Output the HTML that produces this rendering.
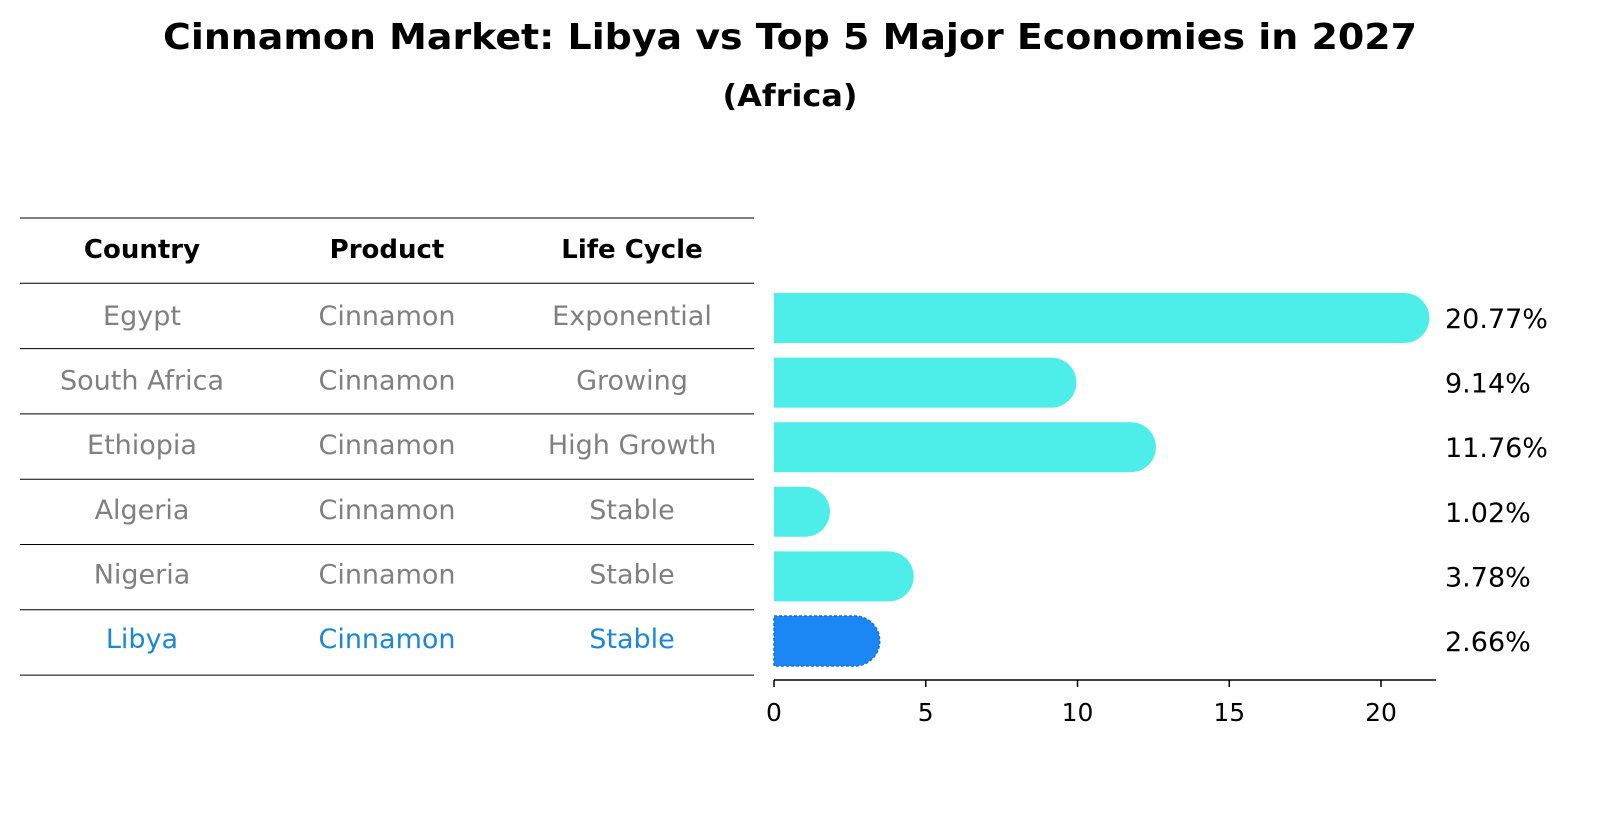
<!DOCTYPE html>
<html><head><meta charset="utf-8"><style>
body{margin:0;background:#fff;font-family:"Liberation Sans","DejaVu Sans",sans-serif;}
</style></head><body>
<svg width="1604" height="823" xmlns="http://www.w3.org/2000/svg" font-family="DejaVu Sans, Liberation Sans, sans-serif">
<text x="790" y="49" text-anchor="middle" font-size="36" font-weight="bold" textLength="1254" lengthAdjust="spacingAndGlyphs">Cinnamon Market: Libya vs Top 5 Major Economies in 2027</text>
<text x="790" y="106" text-anchor="middle" font-size="30" font-weight="bold" textLength="135" lengthAdjust="spacingAndGlyphs">(Africa)</text>
<g id="table"></g>
<g id="bars"></g>
<g id="axis"></g>
</svg>
<script>
const countries=["Egypt","South Africa","Ethiopia","Algeria","Nigeria","Libya"];
const products=["Cinnamon","Cinnamon","Cinnamon","Cinnamon","Cinnamon","Cinnamon"];
const lifeCycles=["Exponential","Growing","High Growth","Stable","Stable","Stable"];
const values=[20.77,9.14,11.76,1.02,3.78,2.66];
const ticks=[0,5,10,15,20];
const NS="http://www.w3.org/2000/svg";
function mk(t,a,p){const e=document.createElementNS(NS,t);for(const k in a)e.setAttribute(k,a[k]);p.appendChild(e);return e;}
const x0=774,ppu=30.35,x=v=>x0+v*ppu;
const rowY=i=>318+i*64.6;
const tbl=document.getElementById('table'),bars=document.getElementById('bars'),ax=document.getElementById('axis');
const cols=[142,387,632];
const hdr=["Country","Product","Life Cycle"];
hdr.forEach((h,j)=>{const t=mk('text',{x:cols[j],y:258,'text-anchor':'middle','font-size':26,'font-weight':'bold'},tbl);t.textContent=h;
});
for(let k=0;k<8;k++){const y=218+k*65.3;const l=mk('line',{x1:20,x2:754,y1:y,y2:y,stroke:'#000','stroke-width':1},tbl);
}
countries.forEach((c,i)=>{const col=i===5?'#1a87d8':'#808080';
[c,products[i],lifeCycles[i]].forEach((s,j)=>{const t=mk('text',{x:cols[j],y:rowY(i)+7,'text-anchor':'middle','font-size':27,fill:col},tbl);t.textContent=s;
});
const h=50,r=25,xe=x(values[i]),y=rowY(i)-h/2;const fill=i===5?'#1a87f5':'#4deeea';
const p=mk('path',{d:`M${x0} ${y}H${xe}A${r} ${r} 0 0 1 ${xe} ${y+h}H${x0}Z`,fill:fill},bars);
if(i===5){p.setAttribute('stroke','#1a6fd8');p.setAttribute('stroke-dasharray','3 2');p.setAttribute('stroke-width','1.5');}

const t=mk('text',{x:1445,y:rowY(i)+10,'font-size':27},bars);t.textContent=values[i].toFixed(2)+'%';
});
const al=mk('line',{x1:x0,x2:1436,y1:680,y2:680,stroke:'#000','stroke-width':1.5},ax);

ticks.forEach(v=>{const l=mk('line',{x1:x(v),x2:x(v),y1:680,y2:687,stroke:'#000','stroke-width':1.5},ax);

const t=mk('text',{x:x(v),y:721,'text-anchor':'middle','font-size':25},ax);t.textContent=v;
});
</script>
</body></html>
